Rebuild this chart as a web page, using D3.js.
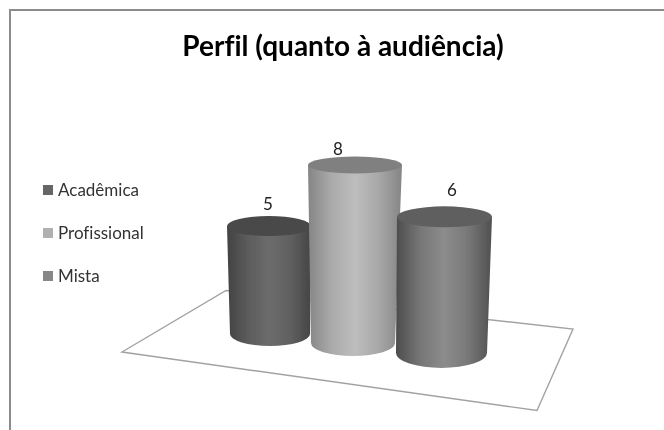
<!DOCTYPE html>
<html><head><meta charset="utf-8">
<script src="https://cdn.jsdelivr.net/npm/d3@7"></script>
<style>html,body{margin:0;padding:0;background:#fff}svg{display:block}text{font-variant-ligatures:none;font-feature-settings:"liga" 0}</style>
</head><body><svg id="c" width="664" height="430"></svg>
<script>
const categories = ["Acadêmica", "Profissional", "Mista"];
const values = [5, 8, 6];
const titleText = "Perfil (quanto à audiência)";

// layout of the 3D view (perspective differs per column)
const columns = [
  {cxT:269, rxT:42, ryT:10, cxB:270, rxB:40, ryB:12, base:334, k:0.97, lx:268, ly:210,
   side:["#424242","#5c5c5c","#6c6c6c","#606060","#454545"], top:"#484848"},
  {cxT:355, rxT:47, ryT:8.5, cxB:353, rxB:42, ryB:13, base:343, k:1, lx:338, ly:155,
   side:["#858585","#aaaaaa","#bdbdbd","#a8a8a8","#858585"], top:"#808080"},
  {cxT:444.5, rxT:47.5, ryT:10.5, cxB:441.5, rxB:45.5, ryB:15, base:353, k:1.02, lx:452, ly:196,
   side:["#4c4c4c","#767676","#8c8c8c","#787878","#505050"], top:"#5f5f5f"}
];
const swatches = ["#666666", "#b0b0b0", "#888888"];
const floor = [[122,352],[226,290.5],[573,329],[537,410.5]];

const svg = d3.select("#c");
const defs = svg.append("defs");
defs.append("filter").attr("id","soft").attr("x","-5%").attr("y","-5%").attr("width","110%").attr("height","110%")
  .append("feGaussianBlur").attr("stdDeviation",0.45);

const h = d3.scaleLinear().domain([0, 8]).range([0, 178]);
const offs = d3.scaleLinear().domain([0, 4]).range(["0%", "100%"]);

const root = svg.append("g").attr("filter","url(#soft)");

// frame
root.append("path").attr("d","M10,430V10H664").attr("fill","none").attr("stroke","#8c8c8c").attr("stroke-width",2);

// title
root.append("text").attr("x",343).attr("y",56).attr("text-anchor","middle")
  .attr("font-family","Lato").attr("font-weight",700).attr("font-size",28).attr("fill","#000").text(titleText);

// floor
root.append("path").attr("d", d3.line()(floor)+"Z").attr("fill","#fff").attr("stroke","#a2a2a2").attr("stroke-width",1.4);

// gradients
columns.forEach((c,i)=>{
  const g = defs.append("linearGradient").attr("id","g"+i).attr("x1",0).attr("x2",1).attr("y1",0).attr("y2",0);
  g.selectAll("stop").data(c.side).join("stop").attr("offset",(d,j)=>offs(j)).attr("stop-color",d=>d);
});

const rows = categories.map((name,i)=>({name,value:values[i],c:columns[i],i}));
const col = root.selectAll("g.col").data(rows).join("g").attr("class","col");
const topY = d => d.c.base - d.c.k*h(d.value);
col.append("path").attr("fill",d=>`url(#g${d.i})`).attr("d",d=>{
  const c=d.c, t=topY(d);
  return `M${c.cxT-c.rxT},${t}L${c.cxB-c.rxB},${c.base}A${c.rxB},${c.ryB} 0 0 0 ${c.cxB+c.rxB},${c.base}L${c.cxT+c.rxT},${t}Z`;
});
col.append("ellipse").attr("cx",d=>d.c.cxT).attr("cy",topY).attr("rx",d=>d.c.rxT).attr("ry",d=>d.c.ryT).attr("fill",d=>d.c.top);

// value labels
root.selectAll("text.v").data(rows).join("text").attr("class","v")
  .attr("x",d=>d.c.lx).attr("y",d=>d.c.ly).attr("text-anchor","middle")
  .attr("font-family","Lato").attr("font-size",17).attr("fill","#222").text(d=>d.value);

// legend
const legendY = d3.scalePoint().domain(categories).range([190,276]);
const lg = root.selectAll("g.l").data(categories).join("g").attr("class","l")
  .attr("transform",d=>`translate(43,${legendY(d)})`);
lg.append("rect").attr("y",-5).attr("width",10).attr("height",10).attr("fill",(d,i)=>swatches[i]);
lg.append("text").attr("x",15).attr("y",6).attr("font-family","Lato").attr("font-size",17).attr("fill","#333").text(d=>d);
</script></body></html>
